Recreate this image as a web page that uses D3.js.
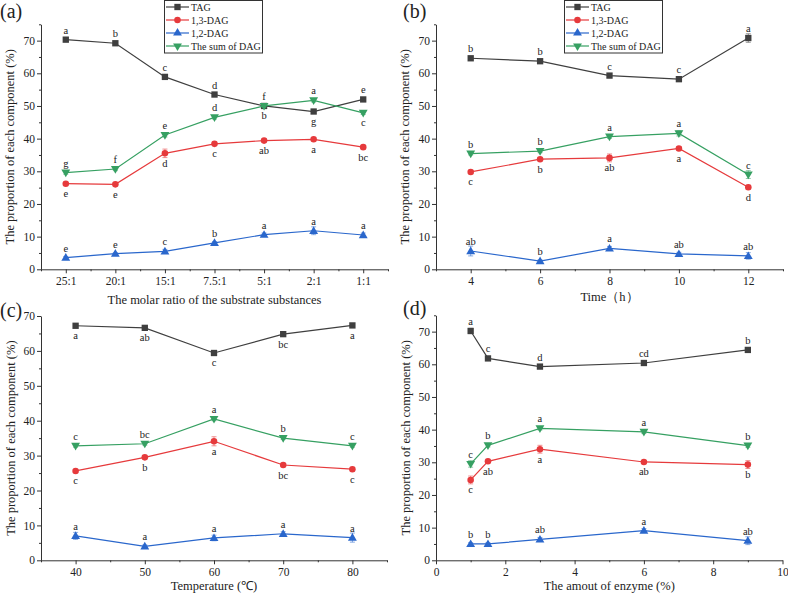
<!DOCTYPE html>
<html><head><meta charset="utf-8">
<script src="https://cdn.jsdelivr.net/npm/d3@7/dist/d3.min.js"></script>
<style>body{margin:0;background:#fff}svg{display:block}svg text{font-family:"Liberation Serif","Times New Roman",serif !important;fill:#222}</style>
</head><body><svg id="chart" width="788" height="593"></svg>
<script>
// ---------- DATA ----------
const seriesNames = ["TAG","1,3-DAG","1,2-DAG","The sum of DAG"];
// (a) molar ratio
const ratioCats = ["25:1","20:1","15:1","7.5:1","5:1","2:1","1:1"];
const aTAG = [70.3,69.2,58.9,53.5,50.0,48.3,52.0];
const a13  = [26.2,26.0,35.5,38.4,39.4,39.8,37.4];
const a12  = [3.6,4.8,5.5,8.1,10.6,11.8,10.5];
const aSum = [29.6,30.7,41.1,46.5,50.0,51.7,47.9];
const aTAGErr = [0.5,0.4,0.5,0.4,0.4,0.6,0.5];
const a13Err  = [0.4,0.4,1.3,0.5,0.4,0.5,0.5];
const a12Err  = [0.3,0.3,0.6,0.4,0.5,1.2,0.6];
const aSumErr = [0.5,0.5,0.6,0.5,0.5,0.5,0.5];
const aTAGLet = ["a","b","c","d","f","g","e"];
const a13Let  = ["e","e","d","c","ab","a","bc"];
const a12Let  = ["e","e","c","b","a","a","a"];
const aSumLet = ["g","f","e","d","b","a","c"];
const aTAGSide = [1,1,1,1,1,-1,1];
const a13Side  = [-1,-1,-1,-1,-1,-1,-1];
const a12Side  = [1,1,1,1,1,1,1];
const aSumSide = [1,1,1,1,-1,1,-1];
// (b) time
const times = [4,6,8,10,12];
const bTAG = [64.6,63.7,59.3,58.2,70.8];
const b13  = [29.8,33.7,34.1,37.0,25.1];
const b12  = [5.6,2.5,6.4,4.7,4.1];
const bSum = [35.4,36.2,40.6,41.6,29.0];
const bTAGErr = [0.4,0.4,0.5,0.6,1.3];
const b13Err  = [0.5,0.4,1.2,0.5,0.6];
const b12Err  = [1.5,0.4,0.6,0.5,1.0];
const bSumErr = [0.4,0.5,0.5,0.8,1.2];
const bTAGLet = ["b","b","c","c","a"];
const b13Let  = ["c","b","ab","a","d"];
const b12Let  = ["ab","b","a","ab","ab"];
const bSumLet = ["b","b","a","a","c"];
const bTAGSide = [1,1,1,1,1];
const b13Side  = [-1,-1,-1,-1,-1];
const b12Side  = [1,1,1,1,1];
const bSumSide = [1,1,1,1,1];
// (c) temperature
const temps = [40,50,60,70,80];
const cTAG = [67.2,66.6,59.4,64.8,67.3];
const c13  = [25.6,29.5,34.1,27.3,26.1];
const c12  = [7.0,4.0,6.4,7.6,6.5];
const cSum = [32.8,33.4,40.5,35.0,32.8];
const cTAGErr = [0.4,0.4,0.5,0.4,0.4];
const c13Err  = [0.4,0.4,1.3,0.4,0.5];
const c12Err  = [1.0,0.4,0.8,0.6,1.3];
const cSumErr = [0.4,0.4,0.5,0.4,0.4];
const cTAGLet = ["a","ab","c","bc","a"];
const c13Let  = ["c","b","a","bc","c"];
const c12Let  = ["a","a","a","a","a"];
const cSumLet = ["c","bc","a","b","c"];
const cTAGSide = [-1,-1,-1,-1,-1];
const c13Side  = [-1,-1,-1,-1,-1];
const c12Side  = [1,1,1,1,1];
const cSumSide = [1,1,1,1,1];
// (d) enzyme amount
const enzyme = [1,1.5,3,6,9];
const dTAG = [70.2,61.8,59.3,60.4,64.4];
const d13  = [24.6,30.3,34.0,30.1,29.3];
const d12  = [5.0,5.0,6.4,9.1,6.0];
const dSum = [29.5,35.2,40.4,39.3,35.1];
const dTAGErr = [0.8,0.4,0.4,0.4,0.4];
const d13Err  = [1.2,0.4,1.2,0.4,1.2];
const d12Err  = [0.4,0.4,0.6,0.6,1.2];
const dSumErr = [1.0,0.5,0.5,0.5,0.5];
const dTAGLet = ["a","c","d","cd","b"];
const d13Let  = ["c","ab","a","ab","b"];
const d12Let  = ["b","b","ab","a","ab"];
const dSumLet = ["c","b","a","a","b"];
const dTAGSide = [1,1,1,1,1];
const d13Side  = [-1,-1,-1,-1,-1];
const d12Side  = [1,1,1,1,1];
const dSumSide = [1,1,1,1,1];
// ticks
const yTicks75 = [0,10,20,30,40,50,60,70];
const yMinor75 = [5,15,25,35,45,55,65,75];
const yMinor70 = [5,15,25,35,45,55,65];
const bTicks = [4,6,8,10,12], bMinor = [3,5,7,9,11,13];
const cTicks = [40,50,60,70,80], cMinor = [35,45,55,65,75,85];
const dTicks = [0,2,4,6,8,10], dMinor = [1,3,5,7,9];

// ---------- STYLE ----------
const colors = ["#3f3f3f","#e63a3c","#2a67cc","#36a062"];
const symbols = [d3.symbolSquare, d3.symbolCircle, d3.symbolTriangle, d3.symbolTriangle];
const symSize = [40, 34, 34, 34];
const symRot = [0,0,0,180];
const FONT = "Liberation Serif, Times New Roman, serif";

const svg = d3.select("#chart");
svg.append("rect").attr("width",788).attr("height",593).attr("fill","#fff");

function drawPanel(p){
  const g = svg.append("g");
  const x = p.x, y = p.y;
  const y0 = y.range()[0];
  const xr = x.range();
  const ya = g.append("g").attr("transform",`translate(${xr[0]},0)`)
    .call(d3.axisLeft(y).tickValues(p.yTicks).tickSize(4).tickPadding(2).tickSizeOuter(0).tickFormat(d3.format("d")));
  const yMin = g.append("g").attr("transform",`translate(${xr[0]},0)`)
    .call(d3.axisLeft(y).tickValues(p.yMinor).tickSize(2).tickFormat("").tickSizeOuter(0));
  yMin.select(".domain").remove();
  const xa = g.append("g").attr("transform",`translate(0,${y0})`)
    .call(d3.axisBottom(x).tickValues(p.xTicks).tickSize(4).tickPadding(4).tickSizeOuter(0));
  if (p.xMinor) {
    const xm = g.append("g").attr("transform",`translate(0,${y0})`)
      .call(d3.axisBottom(p.xMinorScale||x).tickValues(p.xMinor).tickSize(2).tickFormat("").tickSizeOuter(0));
    xm.select(".domain").remove();
  }
  g.selectAll("g").attr("font-family",FONT);
  [ya,xa].forEach(a=>a.selectAll("text").style("font-size","11.5px").style("fill","#222"));
  g.selectAll(".domain, .tick line").attr("stroke","#333").attr("stroke-width",1);
  g.append("text").attr("x",(xr[0]+xr[1])/2).attr("y",p.xTitleY).attr("text-anchor","middle")
    .style("font-size","12.5px").text(p.xTitle);
  const yc = (y.range()[0]+y.range()[1])/2;
  g.append("text").attr("transform",`translate(${p.yTitleX},${yc}) rotate(-90)`).attr("text-anchor","middle")
    .style("font-size","12.5px").text("The proportion of each component (%)");
  g.append("text").attr("x",p.labX).attr("y",p.labY).style("font-size","20px").text(p.label);

  const xv = p.xv;
  p.series.forEach((s,si)=>{
    const col = colors[si];
    const pts = xv.map((v,i)=>({px:x(v), py:y(s.v[i]), v:s.v[i], e:s.e[i], l:s.l[i], side:s.side[i]}));
    const eg = g.append("g").attr("stroke",col).attr("stroke-opacity",0.55).attr("stroke-width",1);
    pts.forEach(d=>{
      const t = y(d.v + d.e), b = y(d.v - d.e);
      eg.append("line").attr("x1",d.px).attr("x2",d.px).attr("y1",t).attr("y2",b);
      eg.append("line").attr("x1",d.px-2.5).attr("x2",d.px+2.5).attr("y1",t).attr("y2",t);
      eg.append("line").attr("x1",d.px-2.5).attr("x2",d.px+2.5).attr("y1",b).attr("y2",b);
    });
    g.append("path").datum(pts).attr("fill","none").attr("stroke",col).attr("stroke-width",1.2)
      .attr("d", d3.line().x(d=>d.px).y(d=>d.py));
    g.selectAll(null).data(pts).join("path")
      .attr("d", d3.symbol().type(symbols[si]).size(symSize[si]))
      .attr("transform", d=>`translate(${d.px},${d.py + (si===3?-0.5:si===2?0.6:0)}) rotate(${symRot[si]})`)
      .attr("fill",col);
    g.selectAll(null).data(pts).join("text")
      .attr("x",d=>d.px).attr("y",d=> d.side>0 ? d.py-6 : d.py+13.5)
      .attr("text-anchor","middle").style("font-size","10.5px").text(d=>d.l);
  });

  if (p.legendX !== undefined) {
    const lg = g.append("g").attr("transform",`translate(${p.legendX},0)`);
    lg.append("rect").attr("x",0.5).attr("y",0.5).attr("width",98).attr("height",52.5)
      .attr("fill","#fff").attr("stroke","#333").attr("stroke-width",1);
    seriesNames.forEach((n,i)=>{
      const ry = 7 + i*13;
      lg.append("line").attr("x1",2).attr("x2",25).attr("y1",ry).attr("y2",ry).attr("stroke",colors[i]).attr("stroke-width",1.2);
      lg.append("path").attr("d",d3.symbol().type(symbols[i]).size(symSize[i]))
        .attr("transform",`translate(13.5,${ry}) rotate(${symRot[i]})`).attr("fill",colors[i]);
      lg.append("text").attr("x",27).attr("y",ry+3.5).style("font-size","10px").text(n);
    });
  }
}

// (a)
const xa = d3.scalePoint().domain(ratioCats).range([41,388]).padding(0.5);
const xaMinor = d3.scaleLinear().domain([0,7]).range([41,388]);
drawPanel({
  x: xa, y: d3.scaleLinear().domain([0,75]).range([269.3,24.3]),
  xv: ratioCats, xTicks: ratioCats, xMinor: [0,1,2,3,4,5,6,7], xMinorScale: xaMinor,
  yTicks: yTicks75, yMinor: yMinor75,
  xTitle: "The molar ratio of the substrate substances", xTitleY: 304,
  yTitleX: 14, label: "(a)", labX: 0, labY: 18, legendX: 164,
  series: [
    {v:aTAG,e:aTAGErr,l:aTAGLet,side:aTAGSide},
    {v:a13,e:a13Err,l:a13Let,side:a13Side},
    {v:a12,e:a12Err,l:a12Let,side:a12Side},
    {v:aSum,e:aSumErr,l:aSumLet,side:aSumSide}]
});
// (b)
drawPanel({
  x: d3.scaleLinear().domain([3,13]).range([436,783]), y: d3.scaleLinear().domain([0,75]).range([269.3,24.3]),
  xv: times, xTicks: bTicks, xMinor: bMinor,
  yTicks: yTicks75, yMinor: yMinor75,
  xTitle: "Time（h）", xTitleY: 301,
  yTitleX: 409, label: "(b)", labX: 403, labY: 18, legendX: 564,
  series: [
    {v:bTAG,e:bTAGErr,l:bTAGLet,side:bTAGSide},
    {v:b13,e:b13Err,l:b13Let,side:b13Side},
    {v:b12,e:b12Err,l:b12Let,side:b12Side},
    {v:bSum,e:bSumErr,l:bSumLet,side:bSumSide}]
});
// (c)
drawPanel({
  x: d3.scaleLinear().domain([35,85]).range([41,387]), y: d3.scaleLinear().domain([0,70]).range([560.3,316]),
  xv: temps, xTicks: cTicks, xMinor: cMinor,
  yTicks: yTicks75, yMinor: yMinor70,
  xTitle: "Temperature (℃)", xTitleY: 590,
  yTitleX: 15, label: "(c)", labX: 0, labY: 317,
  series: [
    {v:cTAG,e:cTAGErr,l:cTAGLet,side:cTAGSide},
    {v:c13,e:c13Err,l:c13Let,side:c13Side},
    {v:c12,e:c12Err,l:c12Let,side:c12Side},
    {v:cSum,e:cSumErr,l:cSumLet,side:cSumSide}]
});
// (d)
drawPanel({
  x: d3.scaleLinear().domain([0,10]).range([436,782.5]), y: d3.scaleLinear().domain([0,75]).range([560.3,315.3]),
  xv: enzyme, xTicks: dTicks, xMinor: dMinor,
  yTicks: yTicks75, yMinor: yMinor75,
  xTitle: "The amout of enzyme (%)", xTitleY: 590,
  yTitleX: 410, label: "(d)", labX: 403, labY: 315,
  series: [
    {v:dTAG,e:dTAGErr,l:dTAGLet,side:dTAGSide},
    {v:d13,e:d13Err,l:d13Let,side:d13Side},
    {v:d12,e:d12Err,l:d12Let,side:d12Side},
    {v:dSum,e:dSumErr,l:dSumLet,side:dSumSide}]
});
</script></body></html>
